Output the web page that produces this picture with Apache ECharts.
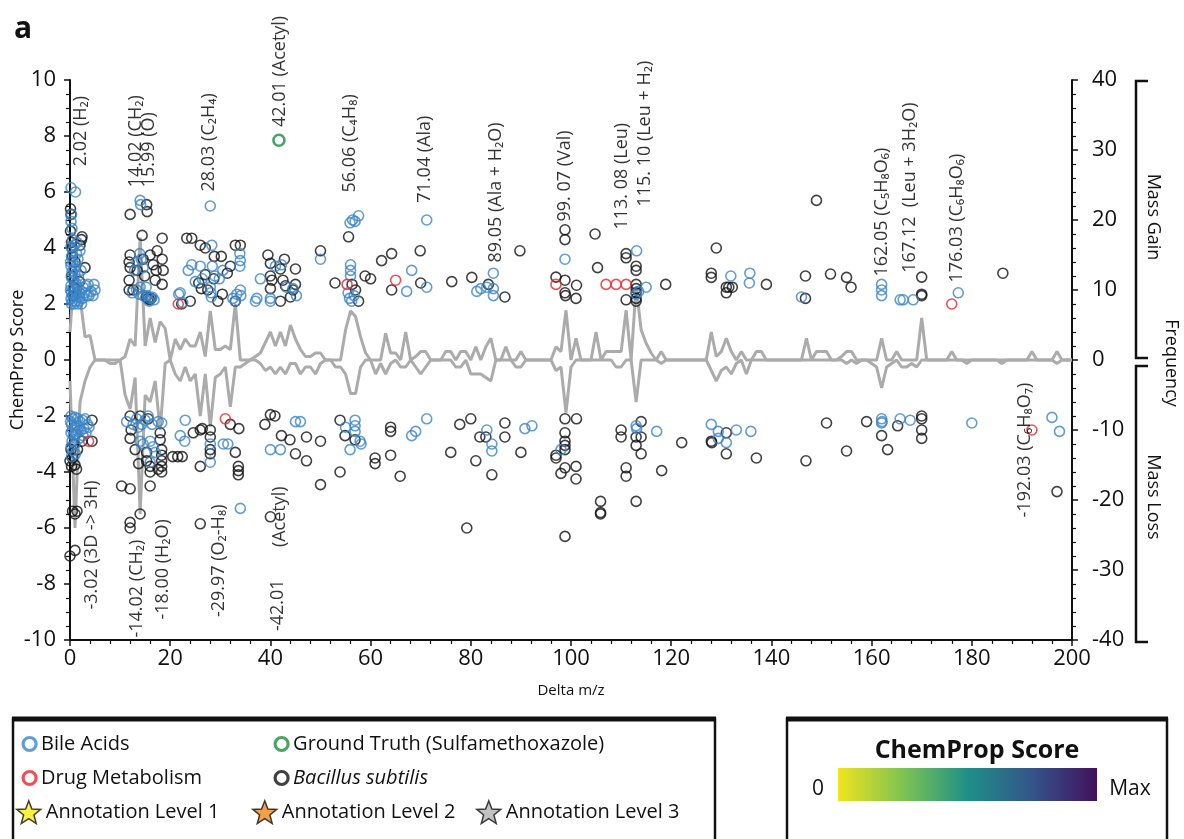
<!DOCTYPE html>
<html><head><meta charset="utf-8">
<script src="https://cdn.jsdelivr.net/npm/echarts@6/dist/echarts.min.js"></script>
<style>html,body{margin:0;padding:0;background:#fff}#main{width:1184px;height:839px}</style>
</head><body><div id="main"></div>
<script>
const FONT = "'Open Sans', 'DejaVu Sans', sans-serif";
const BLUE = '#3a85c8', RED = '#e8262b', GREEN = '#1e8c3e', BLACK = '#111111', GRAY = '#ababab';

// frequency of mass gain / mass loss per integer delta m/z (index = m/z)
const gainFreq = [
4,14,9,3.3,3.5,0,0,0,0,0,
0,0.5,3,2,17.5,2,6,2.5,5.5,4.5,
0,3,1.5,3,2,2,4,0.5,7,1.5,
1.5,2,1.5,8,0,0,0,0.5,1,2.5,
4,2,4,2,5,3,1.5,0.5,0.5,1,
1,0,0,0,0,4.3,7,6.2,3.3,1,
0,0,0,3.8,1,1,0,4,0,0.5,
1.2,1.2,0,0,0,1.2,1.2,0,1.2,1.2,
0,1.9,0,1.9,3.1,0,0,1.9,0,0,
1.2,0,0,0,0,0,0,1.9,1.2,7.1,
0,3.1,0,0,0,4,0,1.2,1.2,1.2,
1.2,7.1,0,10.5,4.3,2.4,1,0,1.2,0,
0,0,0,0,0,0,0,0,4,0.5,
1.2,3.1,1.2,0,1.2,0,0,1.2,1.2,0,
0,0,0,0,0,0,0,3.1,0,1.2,
1.2,1.2,0,0,0.5,1.2,1.2,0,0,0,
0,0,3.1,0,0,1.2,0,0,0,0,
6,0,0,0,0,0,1.2,0,0,0,
0,0,0,0,0,0,0,0,0,0,
0,0,1.2,0,0,0,0,1.2,0,0,
0];
const lossFreq = [
-3,-24,-6,-3,-1,0,0,0,-0.5,-0.5,
0,-5,-7,-2.5,-22,-5,-6,-3,-10,-0.5,
0,-2,-3,-1,-3,-2,-8,-2,-9.5,-2.5,
-2,-1,-6.7,-1,-1,-0.5,0,0,-0.5,-1.5,
-1,-2,-1,-2,-0.5,-0.5,-2,-1,-1,-2,
-0.5,0,0,-1,-1,-2,-4.8,-4.8,-1,0,
0,-2,-0.5,-2,-0.5,0,-1,-1,0,-1,
-2,-1,0,0,0,0,0,-1,-1,0,
-2,-2,-2,-2.5,-3,0,0,0,0,-1,
-1,0,0,0,0,0,0,-1.5,-1,-7.5,
-1,0,0,0,0,0,0,0,0,-1,
-1,0,0,-6,0,0,0,0,-0.5,0,
0,0,0,0,0,0,0,0,-1.5,-3,
-1.5,-1,-2,-0.5,0,-2,0,0,0,0,
0,0,0,0,0,0,0,0,0,0,
0,0,0,0,0,-0.5,0,-0.5,0,0,
-0.5,-1,-4,-1,-0.5,0,-1,-1,-0.5,-1,
0,0,0,0,0,0,0,0,0,-0.5,
0,0,0,0,0,0,-0.5,0,0,0,
0,0,0,0,0,0,0,-0.5,0,0,
0];

const bileAcids = [
[0.2,6.15],[1.1,6.0],[0.3,5.2],[0.2,4.95],[0.4,4.7],[0.2,4.05],[0.5,3.9],[0.3,3.7],[0.6,3.5],[0.2,3.35],[0.8,3.25],[0.4,3.15],[1.0,3.05],[0.3,2.95],[0.7,2.85],[1.2,2.75],[0.2,2.65],[0.6,2.55],[1.0,2.5],[0.3,2.4],[1.4,2.4],[0.8,2.3],[0.2,2.2],[0.5,2.1],[1.1,2.1],[0.3,2.0],[0.8,2.0],[1.5,2.0],[1.8,2.1],[1.6,3.6],[2.0,3.9],[1.3,3.8],[1.9,2.25],[2.3,2.0],[2.6,2.6],[3.0,2.4],[3.4,2.3],[3.2,2.65],[3.8,2.3],[4.2,2.45],[2.5,2.2],[1.5,2.6],[1.7,3.0],[2.2,3.2],[0.5,4.3],[0.9,4.1],[1.4,4.2],[1.2,3.35],[0.1,2.5],[0.1,3.5],[3.6,2.7],[4.6,2.3],[5.0,2.5],[4.8,2.7],[2.0,2.4],
[14.0,5.7],[14.1,5.55],[13.9,3.8],[14.2,3.6],[13.4,3.5],[14.6,3.3],[13.3,2.5],[13.8,2.35],[14.6,2.3],[12.9,3.2],[14.0,2.6],[15.4,2.3],[16.0,2.2],[16.4,2.25],[16.8,2.15],[15.8,2.1],[12.4,2.4],[15.2,2.6],
[28.0,5.5],[22.0,2.4],[22.5,2.05],[28.3,4.1],[23.6,3.2],[24.3,3.4],[26.0,3.35],[28.4,3.35],[28.9,3.0],[29.8,2.9],[30.5,3.2],[33.9,3.8],[34.0,3.55],[33.9,3.35],[28.0,2.6],[28.1,2.4],[28.2,2.25],[34.0,2.5],[34.1,2.3],[21.7,2.35],[37.3,2.2],[40.0,2.2],[32.5,2.2],[33.3,2.35],[33.0,2.1],[25.0,2.8],[26.4,2.9],
[41.0,3.35],[42.2,3.4],[38.0,2.9],[43.2,2.6],[45.2,2.3],[37.0,2.1],[40.0,2.1],[44.5,2.55],[50.0,3.6],
[55.9,4.9],[56.9,4.95],[57.6,5.15],[56.4,5.0],[56.0,3.4],[56.0,3.2],[56.0,3.0],[55.5,2.4],[55.8,2.2],[56.2,2.1],[56.7,2.3],[67.2,2.45],[68.2,3.2],[71.2,2.6],[71.2,5.0],
[81.2,2.45],[82.0,2.55],[83.2,2.6],[84.5,2.3],[84.5,2.55],[84.5,3.1],
[98.8,3.6],[113.1,3.9],[113.0,2.35],[113.5,2.45],[115.0,2.6],[131.9,3.0],[135.7,3.1],[135.6,2.75],
[146.0,2.25],[162.0,2.7],[162.0,2.5],[162.0,2.3],[165.7,2.15],[166.3,2.15],[168.3,2.15],[177.3,2.4],
[0.2,-2.0],[0.6,-2.1],[1.0,-2.05],[1.5,-2.1],[2.0,-2.2],[2.5,-2.15],[3.0,-2.1],[3.5,-2.3],[0.3,-2.3],[0.9,-2.4],[1.4,-2.35],[2.2,-2.5],[2.8,-2.45],[0.2,-2.6],[0.7,-2.7],[1.2,-2.65],[1.8,-2.8],[2.6,-2.7],[0.4,-2.9],[1.0,-3.0],[0.2,-3.1],[0.6,-3.25],[1.1,-3.35],[0.3,-3.45],[3.2,-2.6],[1.6,-2.55],[0.1,-2.2],[0.5,-2.5],[3.8,-2.4],
[11.3,-2.2],[12.6,-2.3],[13.3,-2.1],[14.3,-2.3],[15.0,-2.15],[15.6,-2.0],[16.4,-2.3],[17.6,-2.2],[18.3,-2.25],[14.0,-2.9],[14.6,-3.0],[16.0,-2.9],[16.6,-3.1],[17.0,-3.3],[16.0,-3.65],[13.6,-2.4],
[22.0,-2.7],[22.9,-2.9],[23.0,-2.15],[28.0,-3.0],[28.0,-3.65],[30.6,-3.0],[31.5,-3.0],[34.0,-5.3],
[40.0,-3.2],[42.0,-3.2],[45.0,-2.2],[46.0,-2.2],[55.0,-2.4],[56.9,-2.15],[56.9,-2.35],[56.9,-2.55],[55.9,-3.2],[57.9,-2.9],[58.1,-3.0],
[68.2,-2.7],[69.0,-2.55],[71.2,-2.1],[83.2,-2.5],[84.2,-3.0],[84.2,-3.25],[90.8,-2.45],[92.2,-2.35],[98.0,-3.2],
[113.0,-2.35],[113.1,-2.45],[117.1,-2.55],[128.0,-2.3],[129.4,-2.55],[129.4,-2.8],[131.0,-2.95],[133.0,-2.5],[135.9,-2.55],
[162.0,-2.1],[162.0,-2.25],[162.1,-2.2],[165.7,-2.1],[167.7,-2.15],[180.0,-2.25],[196.0,-2.05],[197.5,-2.55]
];

const drugMetabolism = [
[21.6,2.0],[55.3,2.7],[65.0,2.85],[97.0,2.7],[107.0,2.7],[109.0,2.7],[111.0,2.7],[176.0,2.0],
[3.7,-2.9],[31.0,-2.1],[192.0,-2.5]
];

const groundTruth = [[41.7,7.85]];

const bacillus = [
[0.1,5.4],[0.2,5.2],[0.1,4.6],[0.3,4.2],[2.0,4.1],[2.4,4.4],[2.3,4.3],[3.0,3.3],[0.5,3.7],[0.3,3.0],[0.8,2.6],[1.0,3.5],[0.6,2.3],[1.9,2.8],[0.4,4.0],
[12.0,5.2],[15.4,5.3],[15.3,5.55],[14.4,4.45],[12.0,3.75],[11.8,3.5],[12.0,3.3],[11.8,2.85],[11.8,2.5],[12.6,2.5],[14.6,3.6],[16.0,3.75],[17.4,3.9],[18.4,4.35],[18.4,3.6],[18.6,3.2],[18.4,2.7],[17.0,2.85],[15.2,2.25],[15.6,2.2],[15.9,2.15],[16.2,2.2],[13.4,3.2],[14.9,3.0],[16.6,3.4],[17.2,3.2],
[22.3,2.0],[23.3,4.35],[24.3,4.35],[26.0,4.1],[27.0,4.0],[33.0,4.1],[34.0,4.1],[26.2,2.55],[27.5,2.5],[29.5,2.1],[30.4,2.35],[24.0,2.1],[33.0,2.1],[27.0,3.05],[30.2,3.7],[31.4,3.1],[32.0,3.35],[25.7,2.75],[28.8,3.7],[28.7,2.9],
[39.5,3.75],[40.0,3.45],[40.0,3.0],[40.3,2.85],[42.0,3.25],[42.5,2.85],[43.0,2.65],[45.0,3.25],[45.0,2.7],[40.0,2.55],[44.5,2.5],[42.0,2.1],[44.0,2.25],[42.8,3.6],[50.0,3.9],
[55.6,4.4],[52.9,2.75],[56.3,2.7],[57.0,2.5],[57.6,2.1],[58.9,3.0],[60.0,2.9],[62.2,3.55],[64.2,3.8],[64.2,2.5],
[69.9,3.9],[70.0,2.75],[76.2,2.8],[80.2,2.95],[83.5,2.7],[86.8,2.25],[89.8,3.9],
[98.8,4.65],[98.8,4.3],[104.8,4.5],[97.0,2.96],[98.8,2.85],[101.1,2.67],[98.8,2.4],[98.9,2.3],[101.0,2.2],[105.3,3.3],[111.0,3.8],[111.0,3.65],[111.0,2.15],[113.0,3.35],[113.0,3.2],[113.0,2.7],[113.0,2.55],[113.0,2.4],[113.0,2.2],[113.0,2.1],[118.9,2.7],
[128.0,3.1],[128.0,2.95],[129.0,4.0],[131.0,2.6],[131.0,2.4],[131.5,2.6],[132.2,2.6],[139.0,2.7],[146.8,2.2],[146.8,3.0],[149.0,5.7],[151.8,3.07],[155.0,2.95],[155.9,2.6],
[170.0,2.3],[170.0,2.35],[170.0,2.96],[186.2,3.1],
[0.0,-3.6],[0.3,-3.8],[1.0,-3.75],[1.3,-3.9],[0.5,-3.5],[0.5,-5.4],[1.0,-5.5],[1.4,-5.4],[0.0,-7.0],[1.0,-6.8],[4.4,-2.15],[4.4,-2.9],[2.4,-2.9],[0.8,-3.0],[0.2,-3.2],[1.5,-3.2],
[12.0,-2.0],[12.0,-2.8],[14.0,-2.0],[15.6,-2.1],[12.2,-2.5],[18.0,-2.6],[18.0,-2.85],[15.3,-3.3],[15.3,-3.6],[13.7,-3.7],[16.0,-3.8],[16.0,-4.0],[18.3,-3.2],[18.3,-3.4],[18.3,-3.6],[18.3,-3.8],[18.3,-4.0],[17.6,-3.9],[10.3,-4.5],[12.0,-4.6],[16.0,-4.5],[12.0,-5.8],[12.0,-6.0],[14.0,-5.5],[13.0,-3.2],
[20.5,-3.45],[21.5,-3.45],[22.4,-3.45],[24.6,-2.6],[26.0,-2.5],[26.4,-2.45],[28.0,-2.5],[28.0,-2.75],[28.0,-3.2],[28.0,-3.35],[26.0,-3.8],[26.0,-5.85],[32.0,-2.3],[33.7,-2.45],[33.0,-3.3],[33.6,-3.8],[33.6,-3.95],[33.6,-4.1],
[38.9,-2.3],[40.0,-1.95],[40.9,-2.0],[42.2,-2.7],[43.9,-2.85],[47.2,-2.75],[45.0,-3.35],[47.2,-3.6],[50.0,-2.9],[50.0,-4.45],[40.0,-5.6],[53.9,-2.15],[54.9,-2.7],[53.9,-4.0],[56.9,-2.85],[60.9,-3.5],[60.9,-3.7],[64.0,-2.4],[64.0,-2.55],[64.0,-3.4],[65.9,-4.15],
[76.0,-3.3],[77.8,-2.3],[80.0,-2.1],[81.0,-3.6],[79.2,-6.0],[81.8,-2.75],[83.0,-2.75],[84.2,-4.1],[86.8,-2.25],[86.8,-2.75],[90.0,-3.3],
[97.0,-3.4],[97.0,-3.5],[98.8,-2.1],[101.1,-2.1],[98.8,-2.6],[98.8,-2.9],[98.8,-3.05],[98.8,-3.2],[98.8,-3.85],[98.0,-4.05],[101.0,-3.8],[101.0,-4.25],[98.8,-6.3],[105.9,-5.05],[105.9,-5.45],[105.9,-5.5],[110.0,-2.5],[110.0,-2.75],[111.0,-3.85],[111.0,-4.15],[113.0,-2.75],[113.0,-3.05],[114.0,-2.2],[114.0,-2.75],[114.0,-3.35],[113.0,-5.05],[118.1,-3.95],[122.1,-2.95],
[128.0,-2.9],[128.1,-2.95],[131.0,-2.6],[131.0,-3.35],[137.0,-3.5],[146.9,-3.6],[151.0,-2.25],[155.0,-3.25],[159.0,-2.2],[162.0,-2.7],[163.2,-3.2],[165.2,-2.35],[170.0,-2.0],[170.0,-2.1],[170.0,-2.5],[170.0,-2.8],[197.0,-4.7]
];

// annotation labels: anchor in data coordinates (x = delta m/z, y = ChemProp score), text reads upward
const annotations = [
{x:2.2, y:6.9, t:'2.02 (H₂)'},
{x:13.3, y:6.15, t:'14.02 (CH₂)'},
{x:15.9, y:6.15, t:'15.99 (O)'},
{x:27.9, y:6.0, t:'28.03 (C₂H₄)'},
{x:41.9, y:8.3, t:'42.01 (Acetyl)'},
{x:55.9, y:5.96, t:'56.06 (C₄H₈)'},
{x:70.9, y:5.6, t:'71.04 (Ala)'},
{x:85.2, y:3.46, t:'89.05 (Ala + H₂O)'},
{x:98.8, y:4.93, t:'99. 07 (Val)'},
{x:110.2, y:4.64, t:'113. 08 (Leu)'},
{x:114.8, y:5.46, t:'115. 10 (Leu + H₂)'},
{x:162.1, y:2.96, t:'162.05 (C₅H₈O₆)'},
{x:167.7, y:3.1, t:'167.12  (Leu + 3H₂O)'},
{x:177.2, y:2.75, t:'176.03 (C₆H₈O₆)'},
{x:4.4, y:-8.93, t:'-3.02 (3D -> 3H)'},
{x:13.4, y:-9.93, t:'-14.02 (CH₂)'},
{x:18.6, y:-9.29, t:'-18.00 (H₂O)'},
{x:29.9, y:-9.2, t:'-29.97 (O₂-H₈)'},
{x:41.9, y:-6.7, t:'(Acetyl)'},
{x:41.5, y:-9.7, t:'-42.01'},
{x:190.6, y:-5.64, t:'-192.03 (C₆H₈O₇)'}
];

const legendCircles1 = ['Bile Acids', 'Drug Metabolism'];
const legendCircles2 = ['Ground Truth (Sulfamethoxazole)', 'Bacillus subtilis'];
const legendStars = ['Annotation Level 1', 'Annotation Level 2', 'Annotation Level 3'];
const starColors = ['#f7ec13', '#f08a1c', '#b3b3b3'];
const colorbarStops = ['#f0e41e', '#7ec451', '#1f9088', '#33558a', '#43115e'];

const STAR = 'path://M12,1 L15,8.8 L23.4,9.2 L16.9,14.5 L19.1,22.7 L12,18 L4.9,22.7 L7.1,14.5 L0.6,9.2 L9,8.8 Z';

function scatter(name, data, color, bw, size) {
  return {
    name, type: 'scatter', data, xAxisIndex: 0, yAxisIndex: 0,
    symbol: 'circle', symbolSize: size || 10, z: 5,
    itemStyle: { color: 'rgba(0,0,0,0)', borderColor: color, borderWidth: bw || 1.6 },
    emphasis: { disabled: true }, silent: true
  };
}

const chart = echarts.init(document.getElementById('main'), null, { renderer: 'canvas' });

const legendItem = (name, color) => ({ name, icon: 'circle', itemStyle: { color: '#fff', borderColor: color, borderWidth: 3.2 } });
const legendText = { fontSize: 20, fontFamily: FONT, color: '#111', rich: { i: { fontSize: 20, fontFamily: FONT, fontStyle: 'italic', color: '#111' } } };
const fmt = n => n === 'Bacillus subtilis' ? '{i|' + n + '}' : n;

const option = {
  animation: false,
  backgroundColor: '#fff',
  textStyle: { fontFamily: FONT },
  grid: { left: 70, right: 112, top: 80, bottom: 199, containLabel: false, outerBoundsMode: 'none' },
  xAxis: {
    type: 'value', min: 0, max: 200, interval: 20,
    name: 'Delta m/z', nameLocation: 'middle', nameGap: 43, nameMoveOverlap: false,
    nameTextStyle: { fontSize: 15, color: '#111', fontFamily: FONT },
    axisLine: { show: true, onZero: false, lineStyle: { color: '#111', width: 2 } },
    axisTick: { show: true, length: 6, lineStyle: { color: '#111', width: 1.5 } },
    minorTick: { show: true, splitNumber: 5, length: 4, lineStyle: { color: '#111', width: 1.2 } },
    axisLabel: { fontSize: 22, color: '#111', margin: 8, fontFamily: FONT },
    splitLine: { show: false }
  },
  yAxis: [{
    type: 'value', min: -10, max: 10, interval: 2, position: 'left',
    name: 'ChemProp Score', nameLocation: 'middle', nameGap: 43, nameMoveOverlap: false,
    nameTextStyle: { fontSize: 18, color: '#111', fontFamily: FONT },
    axisLine: { show: true, onZero: false, lineStyle: { color: '#111', width: 2 } },
    axisTick: { show: true, length: 6, lineStyle: { color: '#111', width: 1.5 } },
    minorTick: { show: true, splitNumber: 4, length: 4, lineStyle: { color: '#111', width: 1.2 } },
    axisLabel: { fontSize: 22, color: '#111', margin: 14, fontFamily: FONT },
    splitLine: { show: false }
  }, {
    type: 'value', min: -40, max: 40, interval: 10, position: 'right',
    axisLine: { show: true, onZero: false, lineStyle: { color: '#111', width: 2 } },
    axisTick: { show: true, length: 6, lineStyle: { color: '#111', width: 1.5 } },
    minorTick: { show: true, splitNumber: 5, length: 4, lineStyle: { color: '#111', width: 1.2 } },
    axisLabel: { fontSize: 22, color: '#111', margin: 20, fontFamily: FONT },
    splitLine: { show: false }
  }],
  legend: [
    { left: 21.5, top: 734, padding: 0, orient: 'vertical', itemGap: 14, itemWidth: 13, itemHeight: 13, selectedMode: false,
      data: [legendItem('Bile Acids', BLUE), legendItem('Drug Metabolism', RED)], textStyle: legendText, formatter: fmt },
    { left: 273.5, top: 734, padding: 0, orient: 'vertical', itemGap: 14, itemWidth: 13, itemHeight: 13, selectedMode: false,
      data: [legendItem('Ground Truth (Sulfamethoxazole)', GREEN), legendItem('Bacillus subtilis', BLACK)], textStyle: legendText, formatter: fmt },
  ].concat(legendStars.map((n, i) => ({
    left: [16, 252, 476][i], top: 800, padding: 0, itemWidth: 24, itemHeight: 24, selectedMode: false,
    data: [{ name: n, icon: STAR, itemStyle: { color: starColors[i], borderColor: '#111', borderWidth: 1.5 } }],
    textStyle: legendText
  }))),
  series: [
    { name: 'Mass Gain Frequency', type: 'line', yAxisIndex: 1, data: gainFreq.map((v, i) => [i, v]),
      symbol: 'none', lineStyle: { color: GRAY, width: 3 }, z: 2, silent: true },
    { name: 'Mass Loss Frequency', type: 'line', yAxisIndex: 1, data: lossFreq.map((v, i) => [i, v]),
      symbol: 'none', lineStyle: { color: GRAY, width: 3 }, z: 2, silent: true },
    scatter('Bacillus subtilis', bacillus, BLACK, 1.6),
    scatter('Bile Acids', bileAcids, BLUE, 1.6),
    scatter('Drug Metabolism', drugMetabolism, RED, 1.6),
    scatter('Ground Truth (Sulfamethoxazole)', groundTruth, GREEN, 2.6, 11),
    ...legendStars.map((n, i) => ({ name: n, type: 'scatter', data: [], symbol: STAR,
      itemStyle: { color: starColors[i], borderColor: '#111', borderWidth: 1.5 } })),
    { name: 'annotations', type: 'scatter', yAxisIndex: 0, symbolSize: 1, z: 10, silent: true,
      itemStyle: { color: 'rgba(0,0,0,0)' },
      data: annotations.map(a => ({ value: [a.x, a.y], name: a.t })),
      label: { show: true, position: [0, 0], rotate: 90, align: 'left', verticalAlign: 'middle',
        formatter: '{b}', fontSize: 18, color: '#000', textBorderWidth: 0, fontFamily: FONT } }
  ],
  graphic: [
    { type: 'text', left: 14, top: 14, style: { text: 'a', fontSize: 30, fontWeight: 'bold', fill: '#111', fontFamily: FONT } },
    { type: 'polyline', shape: { points: [[1148, 81], [1136, 81], [1136, 358], [1148, 358]] }, style: { stroke: '#111', lineWidth: 2.5, fill: null } },
    { type: 'polyline', shape: { points: [[1148, 366], [1136, 366], [1136, 642], [1148, 642]] }, style: { stroke: '#111', lineWidth: 2.5, fill: null } },
    { type: 'text', x: 1153, y: 217, rotation: -Math.PI / 2, style: { text: 'Mass Gain', fontSize: 18, fill: '#111', align: 'center', verticalAlign: 'middle', fontFamily: FONT } },
    { type: 'text', x: 1171, y: 363, rotation: -Math.PI / 2, style: { text: 'Frequency', fontSize: 18, fill: '#111', align: 'center', verticalAlign: 'middle', fontFamily: FONT } },
    { type: 'text', x: 1153, y: 497, rotation: -Math.PI / 2, style: { text: 'Mass Loss', fontSize: 18, fill: '#111', align: 'center', verticalAlign: 'middle', fontFamily: FONT } },
    { type: 'polyline', shape: { points: [[13, 845], [13, 719], [715, 719], [715, 845]] }, style: { stroke: '#111', lineWidth: 2.5, fill: null } },
    { type: 'line', shape: { x1: 12, y1: 719, x2: 716, y2: 719 }, style: { stroke: '#111', lineWidth: 5 } },
    { type: 'polyline', shape: { points: [[787, 845], [787, 719], [1167, 719], [1167, 845]] }, style: { stroke: '#111', lineWidth: 2.5, fill: null } },
    { type: 'line', shape: { x1: 786, y1: 719, x2: 1168, y2: 719 }, style: { stroke: '#111', lineWidth: 5 } },
    { type: 'text', x: 977, y: 751, style: { text: 'ChemProp Score', fontSize: 25, fontWeight: 'bold', fill: '#111', align: 'center', verticalAlign: 'middle', fontFamily: FONT } },
    { type: 'rect', shape: { x: 838, y: 768, width: 259, height: 33 },
      style: { fill: new echarts.graphic.LinearGradient(0, 0, 1, 0, colorbarStops.map((c, i) => ({ offset: i / (colorbarStops.length - 1), color: c }))) } },
    { type: 'text', x: 818, y: 789, style: { text: '0', fontSize: 21, fill: '#111', align: 'center', verticalAlign: 'middle', fontFamily: FONT } },
    { type: 'text', x: 1130, y: 789, style: { text: 'Max', fontSize: 21, fill: '#111', align: 'center', verticalAlign: 'middle', fontFamily: FONT } }
  ]
};
chart.setOption(option);
</script>
</body></html>
